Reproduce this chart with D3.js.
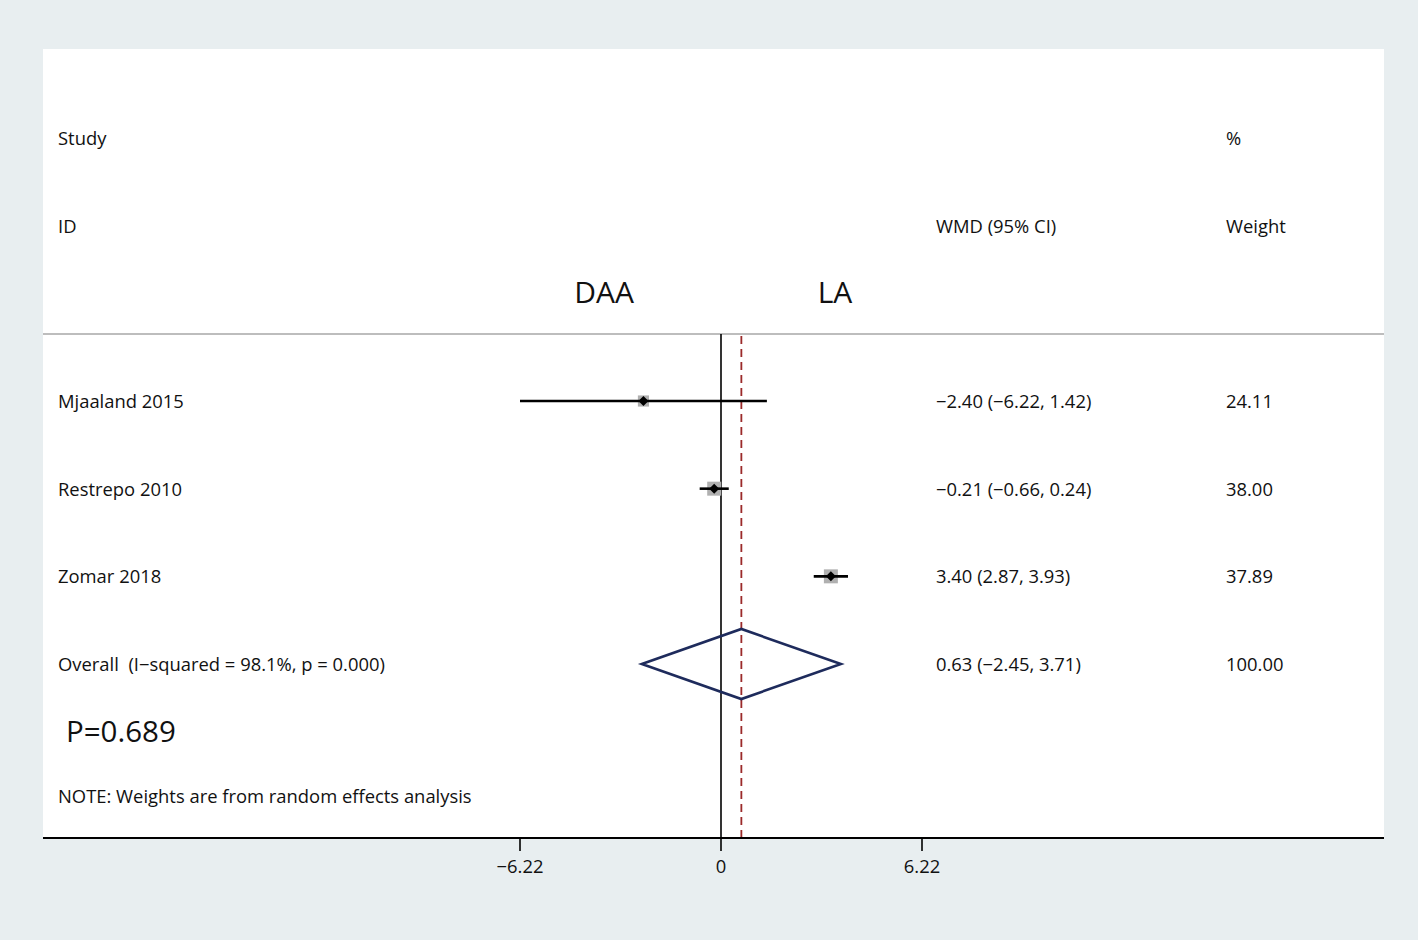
<!DOCTYPE html>
<html><head><meta charset="utf-8">
<script src="https://cdn.jsdelivr.net/npm/d3@7"></script>
<style>html,body{margin:0;padding:0;background:#e8eef0;}svg{display:block;}text{white-space:pre;}</style>
</head><body><svg id="c" width="1418" height="940"></svg>
<script>
const studies = ["Mjaaland 2015", "Restrepo 2010", "Zomar 2018"];
const est = [-2.40, -0.21, 3.40];
const lo = [-6.22, -0.66, 2.87];
const hi = [1.42, 0.24, 3.93];
const weights = [24.11, 38.00, 37.89];
const ciText = ["−2.40 (−6.22, 1.42)", "−0.21 (−0.66, 0.24)", "3.40 (2.87, 3.93)"];
const weightText = ["24.11", "38.00", "37.89"];
const overall = {label: "Overall  (I−squared = 98.1%, p = 0.000)", est: 0.63, lo: -2.45, hi: 3.71, ci: "0.63 (−2.45, 3.71)", w: "100.00"};
const ticks = [-6.22, 0, 6.22];
const tickLabels = ["−6.22", "0", "6.22"];

const FONT = "'Open Sans', sans-serif";
const FS = 18.4;
const svg = d3.select("#c");
svg.append("rect").attr("x",0).attr("y",0).attr("width",1418).attr("height",940).attr("fill","#e8eef0");
svg.append("rect").attr("x",43).attr("y",49).attr("width",1341).attr("height",789).attr("fill","#fff");

const x = d3.scaleLinear().domain([-6.22, 6.22]).range([520, 922]);
const rowY = d3.scalePoint().domain([...studies, "overall"]).range([401, 664]);
const sq = d3.scaleSqrt().domain([0, 38]).range([0, 14]);

const txt = (t, px, py, size, anchor) => svg.append("text").attr("x",px).attr("y",py)
  .attr("font-family",FONT).attr("font-size",size).attr("fill","#111")
  .attr("text-anchor",anchor||"start").attr("dominant-baseline","middle").text(t);

// headers
txt("Study",58,140,FS); txt("%",1226,140,FS);
txt("ID",58,228,FS); txt("WMD (95% CI)",936,228,FS); txt("Weight",1226,228,FS);
txt("DAA",604,295,30,"middle"); txt("LA",835,295,30,"middle");

// separator
svg.append("line").attr("x1",43).attr("x2",1384).attr("y1",334).attr("y2",334).attr("stroke","#bdbdbd").attr("stroke-width",2);

// null line
svg.append("line").attr("x1",x(0)).attr("x2",x(0)).attr("y1",334).attr("y2",838).attr("stroke","#000").attr("stroke-width",1.6);
// overall dashed line
svg.append("line").attr("x1",x(overall.est)).attr("x2",x(overall.est)).attr("y1",336).attr("y2",838)
  .attr("stroke","#9b2a2a").attr("stroke-width",1.8).attr("stroke-dasharray","8,5");

studies.forEach((s,i)=>{
  const y = rowY(s);
  txt(s,58,y+2,FS);
  txt(ciText[i],936,y+2,FS);
  txt(weightText[i],1226,y+2,FS);
  const size = sq(weights[i]);
  svg.append("rect").attr("x",x(est[i])-size/2).attr("y",y-size/2).attr("width",size).attr("height",size).attr("fill","#b0b0b0");
  svg.append("line").attr("x1",x(lo[i])).attr("x2",x(hi[i])).attr("y1",y).attr("y2",y).attr("stroke","#000").attr("stroke-width",2.6);
  const d=5;
  svg.append("path").attr("d",`M${x(est[i])-d},${y}L${x(est[i])},${y-d}L${x(est[i])+d},${y}L${x(est[i])},${y+d}Z`).attr("fill","#000");
});

// overall
const oy = rowY("overall");
txt(overall.label,58,oy+2,FS);
txt(overall.ci,936,oy+2,FS);
txt(overall.w,1226,oy+2,FS);
svg.append("path").attr("d",`M${x(overall.lo)},${oy}L${x(overall.est)},${oy-35}L${x(overall.hi)},${oy}L${x(overall.est)},${oy+35}Z`)
  .attr("fill","none").attr("stroke","#1e2b5c").attr("stroke-width",2.6);

txt("P=0.689",66,734,29.5);
txt("NOTE: Weights are from random effects analysis",58,798,FS);

// axis
const ax = svg.append("g").attr("transform","translate(0,838)");
ax.append("line").attr("x1",43).attr("x2",1384).attr("y1",0).attr("y2",0).attr("stroke","#000").attr("stroke-width",2);
ticks.forEach((t,i)=>{
  ax.append("line").attr("x1",x(t)).attr("x2",x(t)).attr("y1",0).attr("y2",13).attr("stroke","#000").attr("stroke-width",1.6);
  ax.append("text").attr("x",x(t)).attr("y",30).attr("text-anchor","middle").attr("dominant-baseline","middle")
    .attr("font-family",FONT).attr("font-size",FS).attr("fill","#111").text(tickLabels[i]);
});
</script></body></html>
